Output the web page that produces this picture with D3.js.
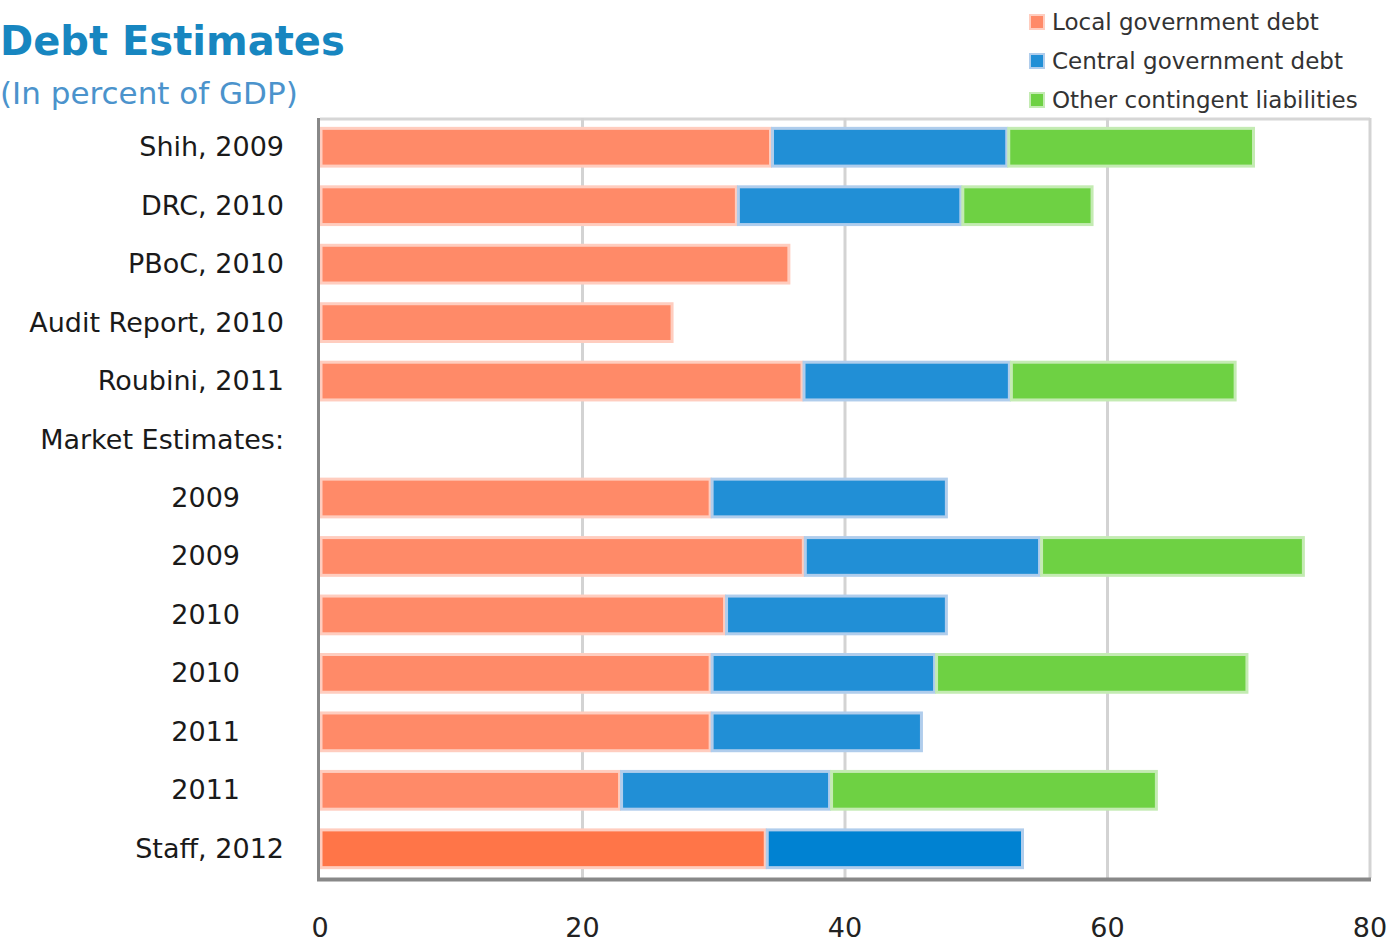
<!DOCTYPE html>
<html><head><meta charset="utf-8">
<script src="https://cdn.jsdelivr.net/npm/d3@7"></script>
<style>body{margin:0;background:#fff}svg{display:block}text{font-family:"DejaVu Sans",sans-serif}</style>
</head><body><svg id="c" width="1391" height="944"></svg>
<script>
const categories = ["Shih, 2009","DRC, 2010","PBoC, 2010","Audit Report, 2010","Roubini, 2011","Market Estimates:","2009","2009","2010","2010","2011","2011","Staff, 2012"];
const localDebt   = [34.4, 31.8, 35.8, 26.9, 36.8, 0, 29.8, 36.9, 30.9, 29.8, 29.8, 22.9, 34.0];
const centralDebt = [18.0, 17.1, 0, 0, 15.8, 0, 18.0, 18.0, 16.9, 17.1, 16.1, 16.0, 19.6];
const otherLiab   = [18.8, 10.0, 0, 0, 17.2, 0, 0, 20.1, 0, 23.8, 0, 24.9, 0];
const seriesNames = ["Local government debt","Central government debt","Other contingent liabilities"];
const xTicks = [0, 20, 40, 60, 80];

const fills = ["#FF8A68","#218FD6","#6ED143"];
const strokes = ["#FFCDBF","#B0CDEC","#C4EBB3"];
const staffFills = ["#FF7548","#0082D2","#6ED143"];

const svg = d3.select("#c");
const L = 320, R = 1370, T = 118, B = 878;
const x = d3.scaleLinear().domain([0,80]).range([L,R]);
const y = d3.scaleBand().domain(d3.range(categories.length)).range([T,B]).paddingInner(0.32).paddingOuter(0.16);

// title
svg.append("text").attr("x",0).attr("y",55).attr("font-size",40).attr("font-weight","bold").attr("fill","#1786C0").text("Debt Estimates");
svg.append("text").attr("x",0).attr("y",104).attr("font-size",31).attr("fill","#4B93CC").text("(In percent of GDP)");

// grid
svg.append("line").attr("x1",L).attr("x2",R).attr("y1",T+1).attr("y2",T+1).attr("stroke","#d6d6d6").attr("stroke-width",3);
svg.selectAll(".g").data(xTicks.slice(1)).join("line")
  .attr("x1",d=>x(d)).attr("x2",d=>x(d)).attr("y1",T).attr("y2",B)
  .attr("stroke","#d3d3d3").attr("stroke-width",3);

// bars
const stackData = categories.map((c,i)=>[localDebt[i],centralDebt[i],otherLiab[i]]);
stackData.forEach((vals,i)=>{
  let start=0;
  vals.forEach((v,k)=>{
    if(v>0){
      const isStaff = i===categories.length-1;
      svg.append("rect")
        .attr("x",x(start)+1).attr("y",y(i)+1)
        .attr("width",x(start+v)-x(start)-2).attr("height",y.bandwidth()-2)
        .attr("fill",isStaff?staffFills[k]:fills[k])
        .attr("stroke",strokes[k]).attr("stroke-width",3);
    }
    start+=v;
  });
});

// axes lines
svg.append("line").attr("x1",L-1.5).attr("x2",L-1.5).attr("y1",T).attr("y2",B+2).attr("stroke","#888").attr("stroke-width",3);
svg.append("line").attr("x1",L-3).attr("x2",R+1).attr("y1",B+1.5).attr("y2",B+1.5).attr("stroke","#888").attr("stroke-width",4);

// category labels
const indentSet = new Set([6,7,8,9,10,11]);
svg.selectAll(".cl").data(categories).join("text")
  .attr("x",(d,i)=>indentSet.has(i)?240:284)
  .attr("y",(d,i)=>y(i)+y.bandwidth()/2+9)
  .attr("text-anchor","end").attr("font-size",27).attr("fill","#1a1a1a")
  .text(d=>d);

// x tick labels
svg.selectAll(".xt").data(xTicks).join("text")
  .attr("x",d=>x(d)).attr("y",937).attr("text-anchor","middle")
  .attr("font-size",27).attr("fill","#222").text(d=>d);

// legend
const lg = svg.append("g");
seriesNames.forEach((n,k)=>{
  const yy = 22 + k*39;
  lg.append("rect").attr("x",1030).attr("y",yy-7).attr("width",14).attr("height",14)
    .attr("fill",fills[k]).attr("stroke",strokes[k]).attr("stroke-width",2);
  lg.append("text").attr("x",1052).attr("y",yy+8).attr("font-size",23).attr("fill","#333").text(n);
});
</script></body></html>
